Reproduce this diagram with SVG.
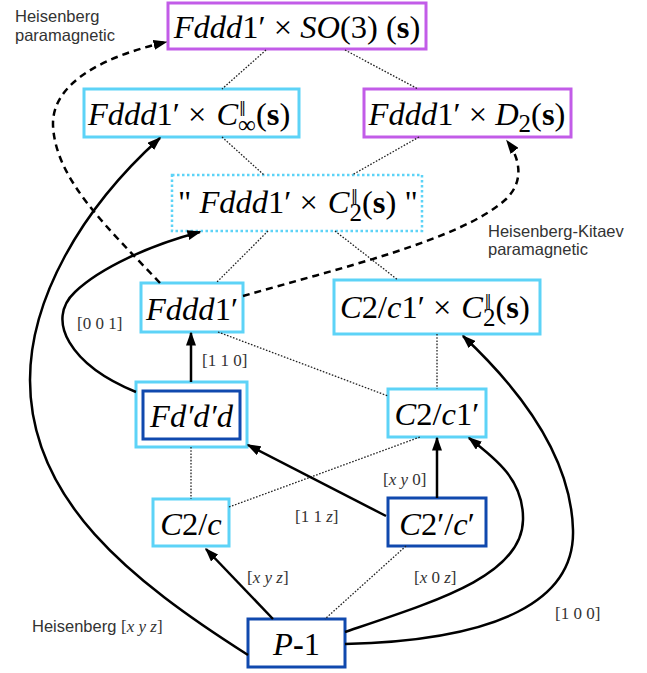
<svg xmlns="http://www.w3.org/2000/svg" width="647" height="673" viewBox="0 0 647 673">
<style>
.m{font-family:"Liberation Serif","DejaVu Serif",serif;font-size:32.5px;fill:#000}
.i{font-style:italic}
.b{font-weight:bold}
.sub{font-size:25px}
.sup{font-size:14px;font-family:"DejaVu Serif","Liberation Serif",serif}
.lbl{font-family:"Liberation Serif","DejaVu Serif",serif;font-size:17px;fill:#333}
.sans{font-family:"Liberation Sans",Arial,sans-serif;font-size:16.5px;fill:#333}
.cy{fill:#fff;stroke:#5DD3F7;stroke-width:3}
.cyd{fill:#fff;stroke:#5DD3F7;stroke-width:2.5;stroke-dasharray:2.5 2.5}
.pu{fill:#fff;stroke:#C25CE8;stroke-width:3}
.db{fill:#fff;stroke:#1049AE;stroke-width:3}
.dot{fill:none;stroke:#222;stroke-width:1.3;stroke-dasharray:1.6 1.6}
.arr{fill:none;stroke:#000;stroke-width:2.5;marker-end:url(#ah)}
.dash{fill:none;stroke:#000;stroke-width:2.5;stroke-dasharray:7 5;marker-end:url(#ah)}
</style>
<defs>
<marker id="ah" viewBox="0 0 14 10" refX="12.5" refY="5" markerWidth="14" markerHeight="10" markerUnits="userSpaceOnUse" orient="auto">
<path d="M0,0 L14,5 L0,10 z" fill="#000"/>
</marker>
</defs>

<g id="n-so3">
<rect class="pu" x="168" y="3" width="258" height="46"/>
<text class="m" x="297" y="38" text-anchor="middle"><tspan class="i">Fddd</tspan>1′ × <tspan class="i">SO</tspan>(3) (<tspan class="b">s</tspan>)</text>
</g>
<g id="n-cinf">
<rect class="cy" x="84" y="89" width="215" height="48"/>
<text class="m"><tspan x="88" y="125"><tspan class="i">Fddd</tspan>1′ ×</tspan><tspan class="i" x="216.4" y="125">C</tspan><tspan class="sub" x="238" y="133">∞</tspan><tspan class="sup" x="239" y="112">‖</tspan><tspan x="256" y="125">(<tspan class="b">s</tspan>)</tspan></text>
</g>
<g id="n-d2">
<rect class="pu" x="364" y="89" width="207" height="48"/>
<text class="m" x="467" y="125" text-anchor="middle"><tspan class="i">Fddd</tspan>1′ × <tspan class="i">D</tspan><tspan class="sub" dy="7">2</tspan><tspan dy="-7">(<tspan class="b">s</tspan>)</tspan></text>
</g>
<g id="n-c2q">
<rect class="cyd" x="172" y="175" width="250" height="56"/>
<text class="m"><tspan x="178" y="213">" <tspan class="i">Fddd</tspan>1′ ×</tspan><tspan class="i" x="327.8" y="213">C</tspan><tspan class="sub" x="349.5" y="221">2</tspan><tspan class="sup" x="351" y="200">‖</tspan><tspan x="362" y="213">(<tspan class="b">s</tspan>) "</tspan></text>
</g>
<g id="n-fddd">
<rect class="cy" x="141" y="283" width="102" height="49"/>
<text class="m" x="192" y="320" text-anchor="middle"><tspan class="i">Fddd</tspan>1′</text>
</g>
<g id="n-c2c1c2">
<rect class="cy" x="334" y="280" width="206" height="54"/>
<text class="m"><tspan x="340" y="318"><tspan class="i">C</tspan>2/<tspan class="i">c</tspan>1′ ×</tspan><tspan class="i" x="461.2" y="318">C</tspan><tspan class="sub" x="483" y="326">2</tspan><tspan class="sup" x="484.5" y="305">‖</tspan><tspan x="495.5" y="318">(<tspan class="b">s</tspan>)</tspan></text>
</g>
<g id="n-fdpdpd">
<rect class="cy" x="136" y="382" width="111" height="65"/>
<rect class="db" x="143" y="391" width="97" height="48"/>
<text class="m i" x="191.5" y="427" text-anchor="middle">Fd′d′d</text>
</g>
<g id="n-c2c1">
<rect class="cy" x="388" y="389" width="98" height="48"/>
<text class="m" x="437" y="425" text-anchor="middle"><tspan class="i">C</tspan>2/<tspan class="i">c</tspan>1′</text>
</g>
<g id="n-c2c">
<rect class="cy" x="153" y="499" width="76" height="47"/>
<text class="m" x="191" y="535" text-anchor="middle"><tspan class="i">C</tspan>2/<tspan class="i">c</tspan></text>
</g>
<g id="n-c2pcp">
<rect class="db" x="388" y="498" width="98" height="48"/>
<text class="m" x="437" y="535" text-anchor="middle"><tspan class="i">C</tspan>2′/<tspan class="i">c</tspan>′</text>
</g>
<g id="n-p1">
<rect class="db" x="248" y="619" width="97" height="48"/>
<text class="m" x="296.5" y="655" text-anchor="middle"><tspan class="i">P</tspan><tspan class="b">-</tspan>1</text>
</g>

<g id="connectors">
<path class="dot" d="M266,50 L222,89"/>
<path class="dot" d="M345,50 L418,89"/>
<path class="dot" d="M222,137 L264,175"/>
<path class="dot" d="M419,137 L352,175"/>
<path class="dot" d="M268,231 L216,283"/>
<path class="dot" d="M335,231 L398,280"/>
<path class="dot" d="M218,332 L388,396"/>
<path class="dot" d="M437,334 L437,389"/>
<path class="dot" d="M191,447 L191,499"/>
<path class="dot" d="M229,507 L420,437"/>
<path class="dot" d="M406,546 L325,619"/>

<path class="arr" d="M248,655 C130,580 30,500 30,380 C30,300 80,210 160,138"/>
<path class="arr" d="M136,392 C70,365 45,320 75,292 C100,268 150,245 200,232"/>
<path class="arr" d="M191,382 L191,333"/>
<path class="arr" d="M386,516 L248,445"/>
<path class="arr" d="M437,498 L437,438"/>
<path class="arr" d="M273,619 L206,549"/>
<path class="arr" d="M345,632 C440,600 522,575 523,520 C524,480 495,458 469,438"/>
<path class="arr" d="M345,644 C500,640 575,600 573,530 C571,450 510,380 463,336"/>
<path class="dash" d="M160,283 C110,230 55,180 53,125 C52,80 110,55 166,42"/>
<path class="dash" d="M243,296 C340,268 460,240 505,200 C525,182 520,158 507,141"/>

<text class="sans" x="15" y="22">Heisenberg</text>
<text class="sans" x="15" y="41">paramagnetic</text>
<text class="sans" x="488" y="237">Heisenberg-Kitaev</text>
<text class="sans" x="488" y="255">paramagnetic</text>
<text class="lbl" x="77" y="329">[0 0 1]</text>
<text class="lbl" x="202" y="366">[1 1 0]</text>
<text class="lbl" x="295" y="522">[1 1 <tspan class="i">z</tspan>]</text>
<text class="lbl" x="383" y="485">[<tspan class="i">x y</tspan> 0]</text>
<text class="lbl" x="247" y="583">[<tspan class="i">x y z</tspan>]</text>
<text class="lbl" x="414" y="583">[<tspan class="i">x</tspan> 0 <tspan class="i">z</tspan>]</text>
<text class="lbl" x="555" y="619">[1 0 0]</text>
<text x="32" y="632"><tspan class="sans">Heisenberg </tspan><tspan class="lbl">[<tspan class="i">x y z</tspan>]</tspan></text>
</g>
</svg>
